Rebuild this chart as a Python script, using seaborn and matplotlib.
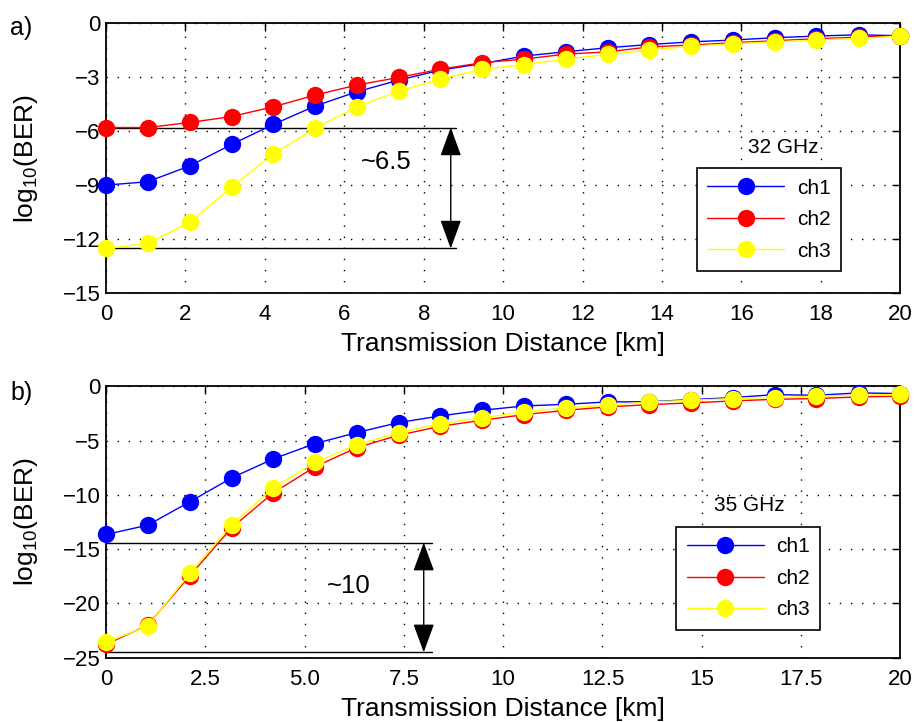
import numpy as np
import pandas as pd
import seaborn as sns
from matplotlib import pyplot as plt
from matplotlib.lines import Line2D

# transmission distance grid [km]
distance = [0, 1.05, 2.11, 3.16, 4.21, 5.26, 6.32, 7.37, 8.42, 9.47,
            10.53, 11.58, 12.63, 13.68, 14.74, 15.79, 16.84, 17.89, 18.95, 20]
channels = ['ch1', 'ch2', 'ch3']

# a) 32 GHz, log10(BER)
ber32_ch1 = [-9.0, -8.81, -7.93, -6.74, -5.63, -4.61, -3.81, -3.17, -2.61, -2.25,
             -1.83, -1.59, -1.37, -1.19, -1.04, -0.94, -0.81, -0.72, -0.65, -0.7]
ber32_ch2 = [-5.8, -5.8, -5.52, -5.19, -4.65, -4.0, -3.44, -3.02, -2.56, -2.2,
             -2.0, -1.72, -1.6, -1.32, -1.22, -1.09, -0.98, -0.87, -0.78, -0.7]
ber32_ch3 = [-12.52, -12.24, -11.07, -9.11, -7.28, -5.85, -4.65, -3.78, -3.11, -2.57,
             -2.3, -2.0, -1.74, -1.5, -1.28, -1.15, -1.04, -0.94, -0.85, -0.72]

# b) 35 GHz, log10(BER)
ber35_ch1 = [-13.65, -12.79, -10.64, -8.44, -6.69, -5.28, -4.26, -3.34, -2.73, -2.21,
             -1.81, -1.66, -1.44, -1.42, -1.23, -1.04, -0.77, -0.83, -0.61, -0.67]
ber35_ch2 = [-23.77, -22.0, -17.45, -13.04, -9.82, -7.42, -5.64, -4.51, -3.68, -3.13,
             -2.61, -2.21, -1.9, -1.69, -1.53, -1.35, -1.2, -1.13, -0.98, -0.92]
ber35_ch3 = [-23.59, -22.09, -17.24, -12.79, -9.36, -7.02, -5.37, -4.29, -3.44, -2.91,
             -2.36, -1.99, -1.75, -1.44, -1.29, -1.13, -1.04, -0.92, -0.83, -0.74]

xticks_a = [0, 2, 4, 6, 8, 10, 12, 14, 16, 18, 20]
xticks_b = [0, 2.5, 5, 7.5, 10, 12.5, 15, 17.5, 20]
xticklabels_b = ['0', '2.5', '5.0', '7.5', '10', '12.5', '15', '17.5', '20']

colors = {'ch1': '#0000ff', 'ch2': '#ff0000', 'ch3': '#ffff00'}


def longData(ch1, ch2, ch3):
    frames = []
    for name, vals in zip(channels, [ch1, ch2, ch3]):
        frames.append(pd.DataFrame({'Distance': distance, 'BER': vals, 'Channel': name}))
    return pd.concat(frames, ignore_index=True)


sns.set_style('white')
plt.rcParams['font.family'] = ['Liberation Sans', 'DejaVu Sans']
plt.rcParams['mathtext.fontset'] = 'custom'
plt.rcParams['mathtext.rm'] = 'Liberation Sans'
for key in ['text.color', 'axes.labelcolor', 'xtick.color', 'ytick.color']:
    plt.rcParams[key] = 'black'

fig = plt.figure(figsize=(9.14, 7.22), dpi=100)
axA = fig.add_axes([0.116, 0.594, 0.869, 0.374])
axB = fig.add_axes([0.116, 0.089, 0.869, 0.376])


def drawPanel(ax, df, ylim, yticks, label, labelY, ghz, ghzPos, legCorner, xlabY):
    sns.lineplot(data=df, x='Distance', y='BER', hue='Channel', palette=colors,
                 marker='o', markersize=12.5, markeredgewidth=0, linewidth=1,
                 ax=ax, legend=False, sort=False, clip_on=False, zorder=3)
    ax.set_xlim(0, 20)
    ax.set_ylim(*ylim)
    ax.set_yticks(yticks)
    ax.grid(True, color='black', linestyle=(0, (1, 7)), linewidth=1)
    for sp in ax.spines.values():
        sp.set_color('black')
        sp.set_linewidth(1.3)
    ax.tick_params(direction='in', top=True, right=True, length=6, width=1,
                   labelsize=16, colors='black')
    ax.tick_params(axis='x', pad=8)
    ax.tick_params(axis='y', pad=4)
    ax.set_xlabel('Transmission Distance [km]', fontsize=19)
    ax.xaxis.set_label_coords(0.5, xlabY)
    ax.set_ylabel(r'$\mathregular{log_{10}}$(BER)', fontsize=19)
    ax.yaxis.set_label_coords(-0.083, 0.5)
    fig.text(0.011, labelY, label, fontsize=18, va='center')
    ax.text(ghzPos[0], ghzPos[1], ghz, fontsize=15, ha='center', va='center')
    handles = [Line2D([], [], color=colors[c], marker='o', markersize=12.5,
                      markeredgewidth=0, linewidth=1) for c in channels]
    leg = ax.legend(handles, channels, loc='upper left', bbox_to_anchor=legCorner,
                    fontsize=15, frameon=True, fancybox=False, handlelength=3.7,
                    handletextpad=0.6, borderpad=0.5, labelspacing=0.6,
                    borderaxespad=0)
    leg.get_frame().set_edgecolor('black')
    leg.get_frame().set_linewidth(1.2)
    leg.get_frame().set_alpha(1)
    leg.set_zorder(5)


dfA = longData(ber32_ch1, ber32_ch2, ber32_ch3)
drawPanel(axA, dfA, (-15, 0), [0, -3, -6, -9, -12, -15], 'a)', 1 - 28 / 722,
          '32 GHz', (17.05, -6.9), (0.744, 0.463), -0.145)
axA.set_xticks(xticks_a)

# gap annotation, panel a
axA.plot([0, 8.8], [ber32_ch2[0], ber32_ch2[0]], color='black', linewidth=1, zorder=2)
axA.plot([0, 8.8], [ber32_ch3[0], ber32_ch3[0]], color='black', linewidth=1, zorder=2)
axA.annotate('', xy=(8.68, ber32_ch3[0]), xytext=(8.68, ber32_ch2[0]),
             arrowprops=dict(arrowstyle='<|-|>,head_length=0.9,head_width=0.33',
                             color='black', lw=1, mutation_scale=20,
                             shrinkA=0, shrinkB=0))
axA.text(7.05, -7.7, '~6.5', fontsize=18.5, ha='center', va='center')

dfB = longData(ber35_ch1, ber35_ch2, ber35_ch3)
drawPanel(axB, dfB, (-25, 0), [0, -5, -10, -15, -20, -25], 'b)', 1 - 393 / 722,
          '35 GHz', (16.2, -11.0), (0.718, 0.482), -0.145)
axB.set_xticks(xticks_b)
axB.set_xticklabels(xticklabels_b)

# gap annotation, panel b
axB.plot([0, 8.2], [-14.4, -14.4], color='black', linewidth=1, zorder=2)
axB.plot([0, 8.2], [-24.5, -24.5], color='black', linewidth=1, zorder=2)
axB.annotate('', xy=(8.0, -24.5), xytext=(8.0, -14.4),
             arrowprops=dict(arrowstyle='<|-|>,head_length=0.9,head_width=0.33',
                             color='black', lw=1, mutation_scale=20,
                             shrinkA=0, shrinkB=0))
axB.text(6.1, -18.4, '~10', fontsize=18.5, ha='center', va='center')

fig.savefig('out.png', dpi=100)
